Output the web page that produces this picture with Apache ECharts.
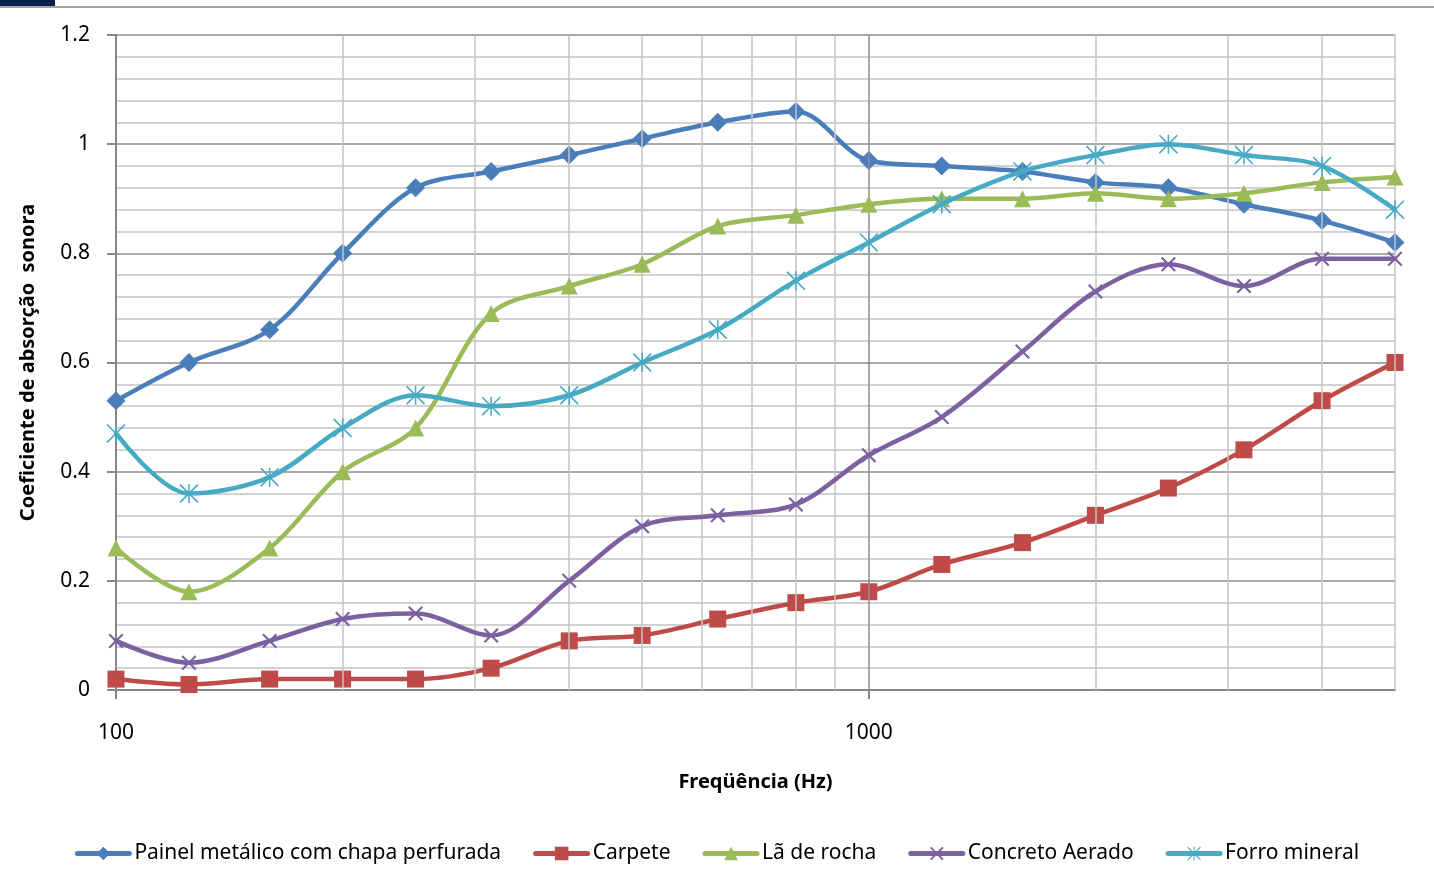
<!DOCTYPE html>
<html>
<head>
<meta charset="utf-8">
<script src="https://cdn.jsdelivr.net/npm/echarts@6/dist/echarts.min.js"></script>
<style>
html,body{margin:0;padding:0;background:#fff;}
#chart{width:1434px;height:882px;}
</style>
</head>
<body>
<div id="chart"></div>
<script>
// ---- Data ----
const frequencies = [100, 125, 160, 200, 250, 315, 400, 500, 630, 800, 1000, 1250, 1600, 2000, 2500, 3150, 4000, 5000];
const painelMetalico = [0.53, 0.60, 0.66, 0.80, 0.92, 0.95, 0.98, 1.01, 1.04, 1.06, 0.97, 0.96, 0.95, 0.93, 0.92, 0.89, 0.86, 0.82];
const carpete        = [0.02, 0.01, 0.02, 0.02, 0.02, 0.04, 0.09, 0.10, 0.13, 0.16, 0.18, 0.23, 0.27, 0.32, 0.37, 0.44, 0.53, 0.60];
const laDeRocha      = [0.26, 0.18, 0.26, 0.40, 0.48, 0.69, 0.74, 0.78, 0.85, 0.87, 0.89, 0.90, 0.90, 0.91, 0.90, 0.91, 0.93, 0.94];
const concretoAerado = [0.09, 0.05, 0.09, 0.13, 0.14, 0.10, 0.20, 0.30, 0.32, 0.34, 0.43, 0.50, 0.62, 0.73, 0.78, 0.74, 0.79, 0.79];
const forroMineral   = [0.47, 0.36, 0.39, 0.48, 0.54, 0.52, 0.54, 0.60, 0.66, 0.75, 0.82, 0.89, 0.95, 0.98, 1.00, 0.98, 0.96, 0.88];
const seriesNames = ['Painel metálico com chapa perfurada', 'Carpete', 'Lã de rocha', 'Concreto Aerado', 'Forro mineral'];
const xTickLabels = [100, 1000];
const minorVerticalGrid = [200, 300, 400, 500, 600, 700, 800, 900, 2000, 3000, 4000, 5000];
const majorVerticalGrid = [1000];
const xTitle = 'Freqüência (Hz)';
const yTitle = 'Coeficiente de absorção  sonora';

const FONT = 'Noto Sans';
const colors = ['#4A7EBB', '#BE4B48', '#9BBB59', '#7D60A0', '#46AAC5'];
const xPath = 'path://M0,1 L1,0 L10,9 L9,10 Z M9,0 L10,1 L1,10 L0,9 Z';
const starPath = 'path://M0,0.6 L0.6,0 L10,9.4 L9.4,10 Z M9.4,0 L10,0.6 L0.6,10 L0,9.4 Z M4.6,0 L5.4,0 L5.4,10 L4.6,10 Z';
const symbols = ['diamond', 'rect', 'triangle', xPath, starPath];
const symbolSizes = [19, 17, 17, 15, 19];
const values = [painelMetalico, carpete, laDeRocha, concretoAerado, forroMineral];

const series = values.map((vals, i) => ({
  name: seriesNames[i],
  type: 'line',
  smooth: 0.33,
  data: frequencies.map((f, j) => [f, vals[j]]),
  symbol: symbols[i],
  symbolSize: symbolSizes[i],
  color: colors[i],
  lineStyle: { width: 4.5, color: colors[i], cap: 'round', join: 'round' },
  itemStyle: { color: colors[i] },
  z: 3 + i
}));

series.push({
  name: '__grid',
  type: 'line',
  data: [],
  silent: true,
  z: 1,
  markLine: {
    silent: true,
    symbol: ['none', 'none'],
    label: { show: false },
    animation: false,
    data: minorVerticalGrid.map(v => ({ xAxis: v, lineStyle: { color: '#C4C4C4', width: 1.5, type: 'solid' } }))
      .concat(majorVerticalGrid.map(v => ({ xAxis: v, lineStyle: { color: '#8C8C8C', width: 1.5, type: 'solid' } })))
  }
});

const chart = echarts.init(document.getElementById('chart'), null, { renderer: 'canvas' });
chart.setOption({
  animation: false,
  backgroundColor: '#ffffff',
  textStyle: { fontFamily: FONT },
  graphic: [
    { type: 'rect', shape: { x: 0, y: 0, width: 55, height: 6 }, style: { fill: '#0C1F4D' }, z: 10 },
    { type: 'line', shape: { x1: 0, y1: 7, x2: 1434, y2: 7 }, style: { stroke: '#A3A3A3', lineWidth: 2 }, z: 9 }
  ],
  grid: { left: 116, right: 39, top: 35, bottom: 192, containLabel: false },
  legend: {
    data: seriesNames,
    left: 'center',
    top: 838,
    itemWidth: 52,
    itemHeight: 17,
    itemGap: 32,
    lineStyle: { width: 5, cap: 'round' },
    textStyle: { fontFamily: FONT, fontSize: 21, color: '#000' }
  },
  xAxis: {
    type: 'log',
    logBase: 10,
    min: 100,
    max: 5000,
    name: xTitle,
    nameLocation: 'middle',
    nameGap: 82,
    nameTextStyle: { fontFamily: FONT, fontSize: 20, fontWeight: 'bold', color: '#000' },
    axisLine: { show: true, onZero: false, lineStyle: { color: '#868686', width: 2 } },
    axisTick: { show: true, length: 9, inside: false, customValues: xTickLabels, lineStyle: { color: '#868686', width: 2 } },
    axisLabel: {
      customValues: xTickLabels,
      margin: 33,
      fontFamily: FONT, fontSize: 21, color: '#000',
      formatter: v => {
        const l = Math.log10(v);
        return Math.abs(l - Math.round(l)) < 1e-6 ? String(Math.round(v)) : '';
      }
    },
    splitLine: { show: false },
    minorTick: { show: false },
    minorSplitLine: { show: false }
  },
  yAxis: {
    type: 'value',
    min: 0,
    max: 1.2,
    interval: 0.2,
    name: yTitle,
    nameLocation: 'middle',
    nameGap: 78,
    nameTextStyle: { fontFamily: FONT, fontSize: 20, fontWeight: 'bold', color: '#000' },
    axisLine: { show: true, lineStyle: { color: '#868686', width: 2 } },
    axisTick: { show: true, length: 9, lineStyle: { color: '#868686', width: 2 } },
    axisLabel: { margin: 26, fontFamily: FONT, fontSize: 21, color: '#000', formatter: v => String(Math.round(v * 10) / 10) },
    splitLine: { show: true, lineStyle: { color: '#8C8C8C', width: 1.5 } },
    minorTick: { show: false, splitNumber: 5 },
    minorSplitLine: { show: true, lineStyle: { color: '#C4C4C4', width: 1.5 } }
  },
  series: series
});
</script>
</body>
</html>
